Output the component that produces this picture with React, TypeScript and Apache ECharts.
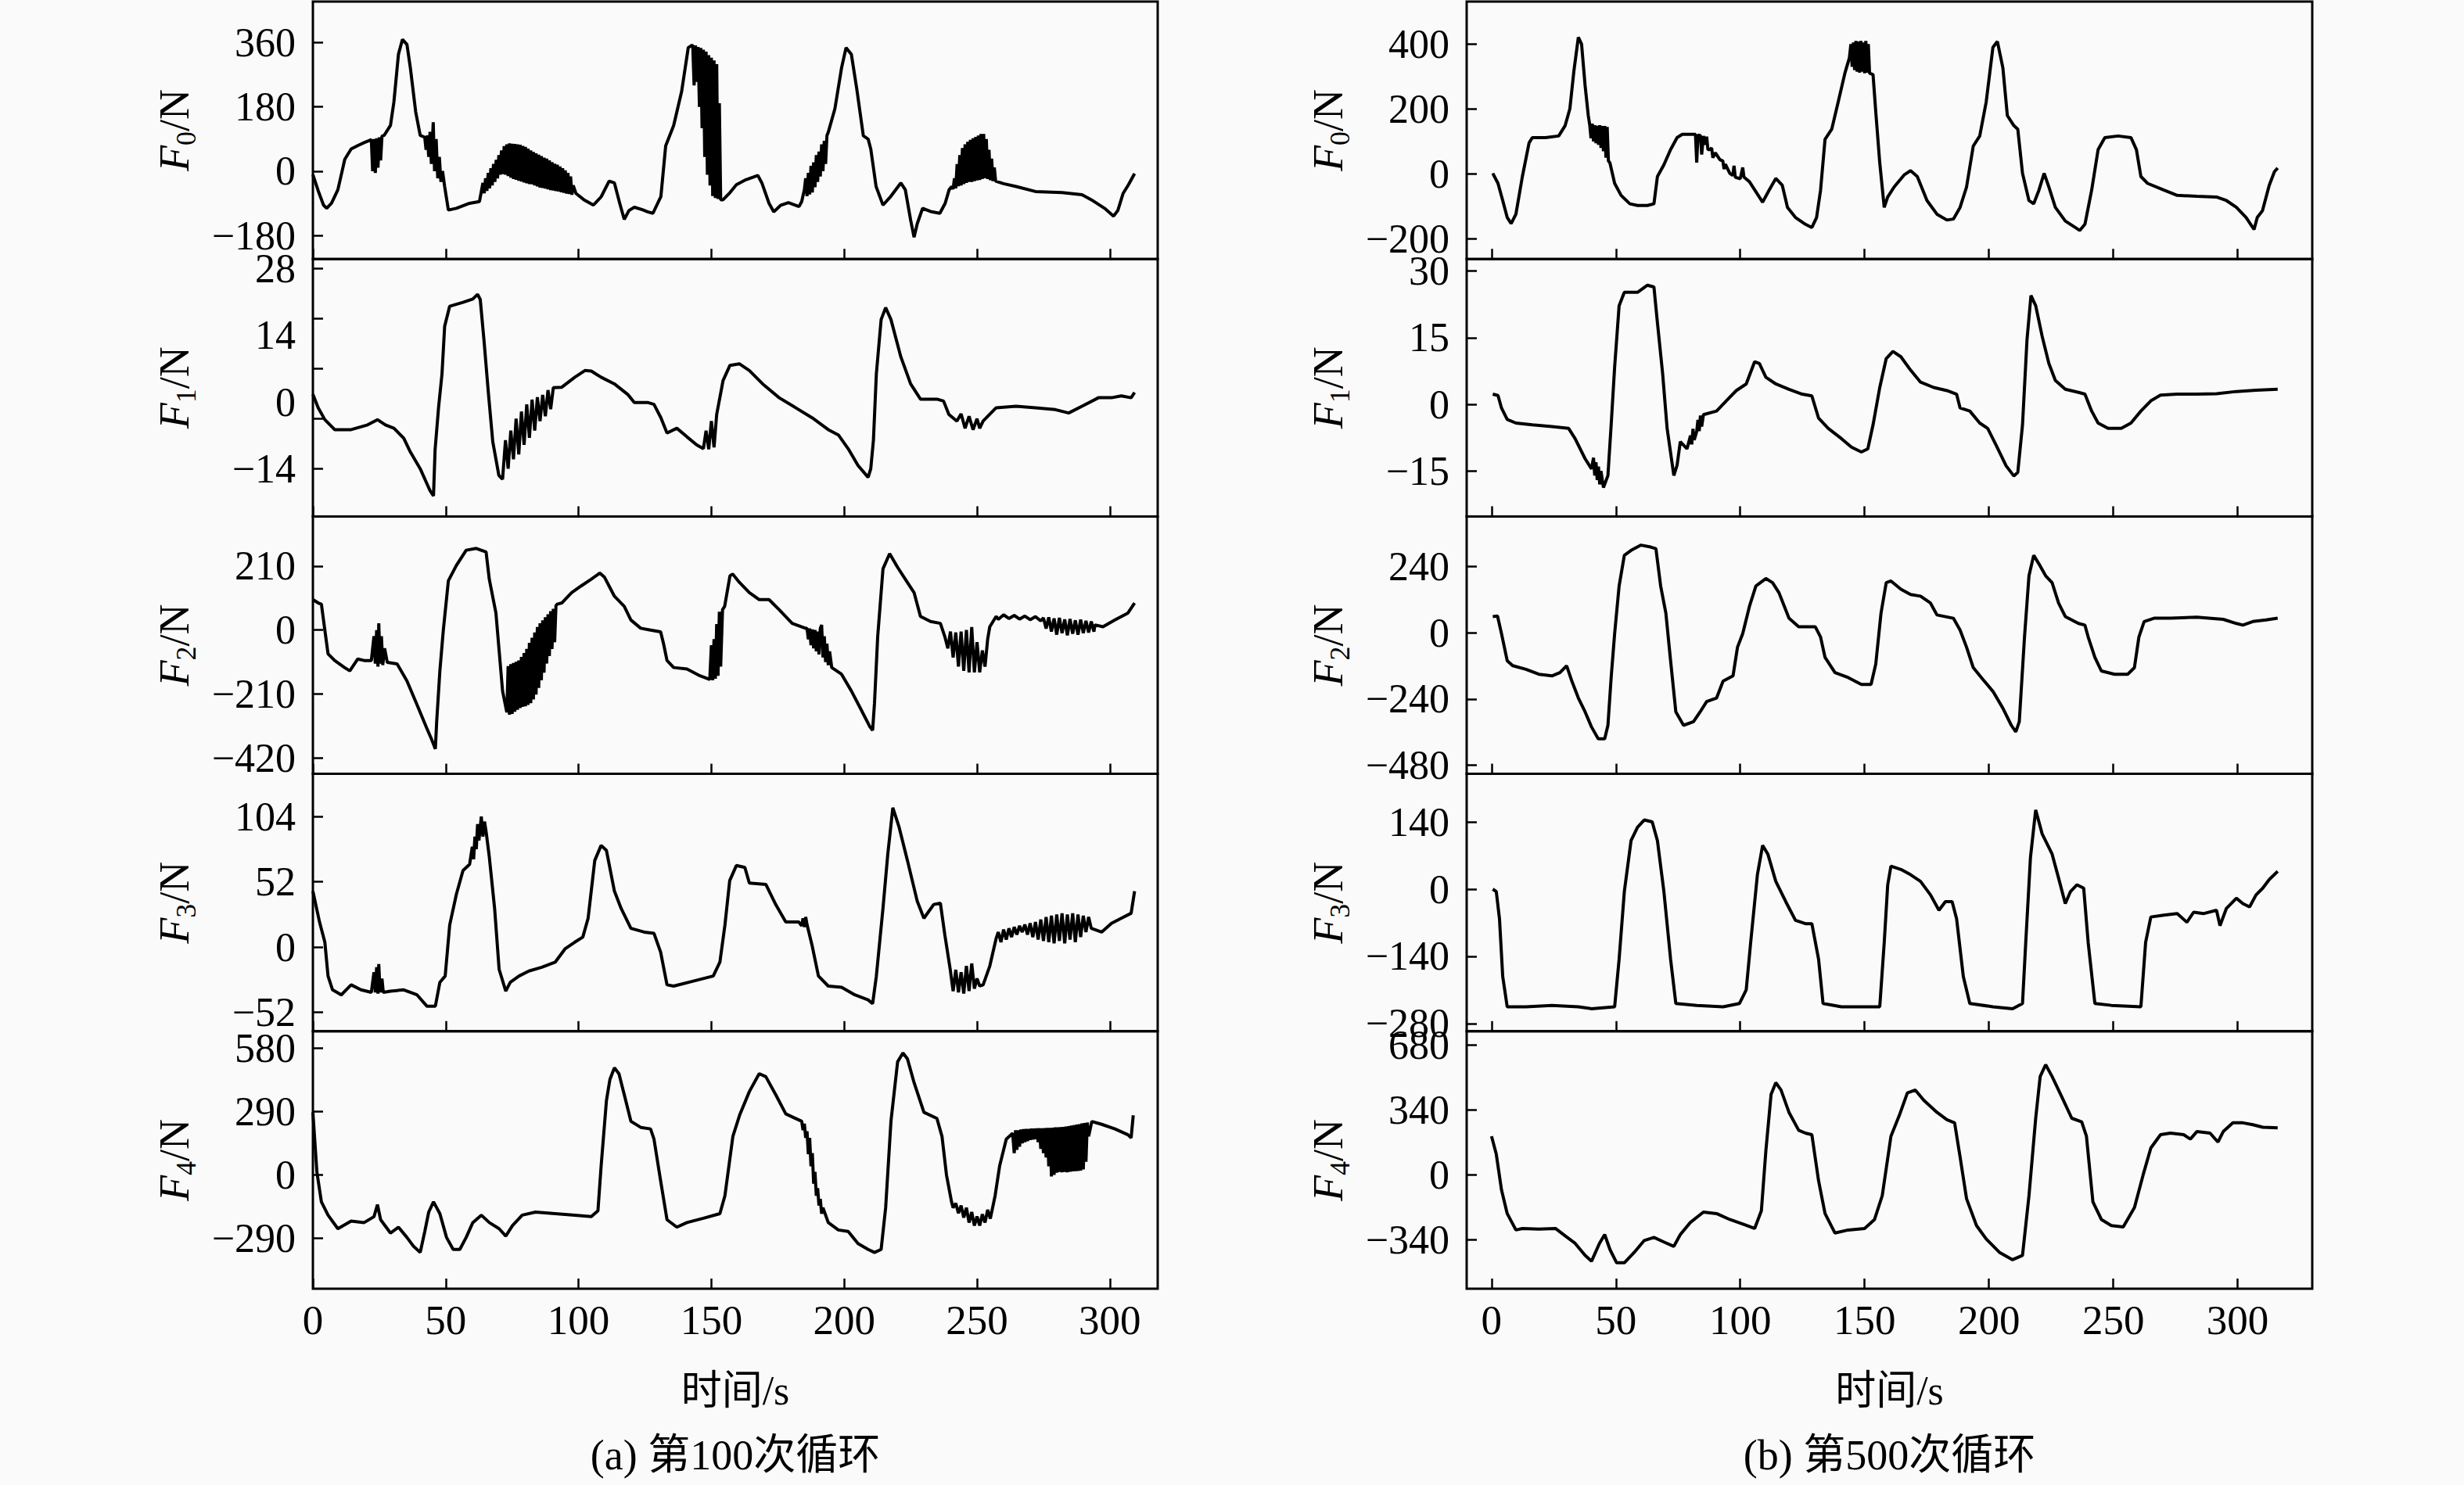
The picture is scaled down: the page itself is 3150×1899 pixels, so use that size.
import React, { useEffect, useRef } from 'react';
import * as echarts from 'echarts';

type Pt = [number, number];

// 时间轴刻度
const timeTicks = [0, 50, 100, 150, 200, 250, 300];

// (a) 第100次循环
const f0a: Pt[] = [[0,-10],[2,-55],[4,-95],[5.2,-104],[7,-90],[9.4,-52],[11,0],[12,33],[14.4,62],[17,72],[19.3,80],[22,88],[22.5,0],[23,90],[23.5,-5],[24,92],[24.5,10],[25,95],[25.5,30],[26,98],[26.8,100],[29.2,128],[30.5,194],[32.2,327],[33.7,369],[35.4,355],[36.7,289],[38.7,166],[40.4,100],[42.1,95],[42.6,60],[43.1,100],[43.6,40],[44.1,110],[44.6,20],[45.3,137],[45.8,0],[46.4,90],[47,-20],[47.6,40],[48.2,-30],[48.8,0],[49.6,-43],[51,-109],[54,-104],[59,-90],[62.7,-85],[64,-33],[64.5,-62],[65,-20],[65.5,-55],[66,-5],[66.5,-48],[67,8],[67.5,-40],[68,20],[68.5,-30],[69,32],[69.5,-20],[70,45],[70.5,-10],[71,58],[71.5,-8],[72,70],[72.5,-10],[73,75],[73.5,-14],[74,78],[74.5,-18],[75,77],[75.5,-22],[76,76],[76.5,-24],[77,75],[77.5,-27],[78,74],[78.5,-29],[79,71],[79.5,-32],[80,68],[80.5,-34],[81,63],[81.5,-36],[82,58],[82.5,-37],[83,54],[83.5,-40],[84,50],[84.5,-43],[85,46],[85.5,-46],[86,42],[86.5,-47],[87,38],[87.5,-49],[88,35],[88.5,-51],[89,30],[89.5,-53],[90,25],[90.5,-54],[91,21],[91.5,-56],[92,18],[92.5,-57],[93,13],[93.5,-59],[94,8],[94.5,-61],[95,2],[95.5,-63],[96,-5],[96.5,-64],[97,-15],[97.5,-66],[98,-40],[99,-62],[102,-80],[105.6,-95],[108.5,-72],[111.5,-28],[113.5,-33],[115.5,-90],[117.2,-135],[119,-110],[121,-101],[124,-108],[126,-114],[128,-118],[131,-71],[132.8,71],[135.8,128],[138.8,223],[141.3,346],[142.8,353],[143,350],[143.5,240],[144,352],[144.5,250],[145,348],[145.5,180],[146,345],[146.5,120],[147,340],[147.5,40],[148,335],[148.5,-10],[149,325],[149.5,-40],[150,318],[150.5,-70],[151,310],[151.5,-75],[152,300],[152.5,-78],[153,190],[153.5,-80],[154.4,-80],[157,-60],[159.4,-38],[163,-24],[167.5,-12],[169,-33],[171.7,-90],[173.5,-114],[176,-96],[179,-88],[183,-99],[184,-85],[185,-52],[185.5,-20],[186,-70],[186.5,-5],[187,-65],[187.5,15],[188,-60],[188.5,25],[189,-45],[189.5,45],[190,-30],[190.5,55],[191,-15],[191.5,75],[192,0],[192.5,85],[193,20],[193.5,100],[194,109],[196.5,175],[199,289],[200.7,346],[202.7,327],[204.7,232],[207.2,99],[209,90],[210,62],[212,-43],[214.6,-95],[217.5,-71],[221.3,-33],[223,-52],[225,-137],[226.3,-185],[227.5,-147],[229.5,-104],[232.5,-113],[236,-118],[238,-90],[239.5,-52],[240.5,-43],[241,-50],[241.5,-20],[242,-48],[242.5,20],[243,-42],[243.5,45],[244,-40],[244.5,65],[245,-36],[245.5,75],[246,-33],[246.5,82],[247,-30],[247.5,88],[248,-30],[248.5,92],[249,-28],[249.5,96],[250,-26],[250.5,100],[251,-25],[251.5,104],[252,-22],[252.5,104],[253,-20],[253.5,90],[254,-22],[254.5,60],[255,-25],[255.5,35],[256,-28],[256.5,10],[257,-28],[260,-35],[264.7,-43],[272,-57],[282,-60],[289.5,-66],[293,-80],[298,-104],[301.4,-126],[303,-110],[305,-62],[307,-38],[309.3,-7]];

const f1a: Pt[] = [[0,1.6],[2,-1.2],[4.5,-3.7],[8.2,-5.8],[14.4,-5.8],[20.6,-4.8],[24.3,-3.7],[27.3,-4.8],[30.5,-5.5],[34.2,-7.6],[36.7,-10.5],[40.4,-14],[44.1,-18.6],[45.4,-19.7],[46,-10],[47.3,-1.2],[48.6,5.9],[49.6,15.9],[51.5,20.1],[56.5,20.9],[60.2,21.6],[62,22.6],[63,21.5],[64.4,13],[66,2.3],[67.7,-8.3],[70,-15.4],[71.4,-16.2],[72.5,-8],[73.5,-14],[74.5,-6],[75.5,-12],[76.5,-3.5],[77.5,-11],[78.5,-2],[79.5,-9],[80.5,-0.5],[81.5,-7.5],[82.5,0.5],[83.5,-6],[84.5,1],[85.5,-4],[86.5,1.5],[87.5,-3],[88.5,2.5],[89.5,-1.5],[90.5,3],[93.7,3.1],[98.6,5.2],[102.4,6.6],[104.8,6.5],[108.5,5.2],[113.5,3.8],[118.5,1.6],[121,-0.1],[126,-0.1],[128.4,-0.5],[131,-3.3],[133.3,-6.5],[137,-5.5],[140.8,-7.3],[144.5,-9],[147,-9.8],[148,-6],[149,-9.9],[150,-4],[151,-9.5],[152,-2.6],[154.4,4.5],[157,7.7],[160.6,8],[164.3,6.6],[169.3,3.8],[175.5,0.9],[181.7,-1.2],[187.9,-3.3],[194,-5.8],[197.8,-6.9],[201.5,-9.8],[205.2,-13.3],[209,-15.8],[210,-14],[211,-8],[212.1,5.9],[213.9,17.3],[215.6,19.8],[217.6,17.3],[221.3,9.5],[225,3.8],[228.7,0.6],[234.9,0.6],[237.4,0.2],[239.4,-2.6],[242.4,-4],[244,-2.5],[245.5,-5.5],[247,-3],[248.5,-5.8],[250,-3.5],[251,-5.5],[252.3,-4],[257.2,-1.2],[264.7,-0.9],[272,-1.2],[279.5,-1.6],[284.5,-2.3],[289.5,-0.9],[295.7,0.9],[300.6,0.9],[304.3,1.3],[308,0.9],[309.3,2]];

const f2a: Pt[] = [[0,100],[2,89],[3.2,85],[4.5,0],[5.7,-78],[8.2,-100],[11.9,-123],[13.9,-134],[16.9,-95],[19.3,-100],[22,-100],[23,-20],[23.5,-110],[24,0],[24.5,-120],[24.8,22],[25.3,-110],[25.8,-20],[26.3,-115],[27,-60],[28,-106],[31.7,-111],[35.4,-167],[39.2,-245],[42.9,-323],[44.6,-357],[46.1,-390],[46.6,-300],[47.8,-134],[49.1,0],[51,162],[54,212],[57.7,262],[61.5,268],[65.2,256],[66.4,167],[68.9,56],[70.1,-67],[71.4,-200],[73,-270],[73.5,-118],[74,-278],[74.5,-112],[75,-275],[75.5,-108],[76,-268],[76.5,-104],[77,-262],[77.5,-100],[78,-256],[78.5,-88],[79,-252],[79.5,-75],[80,-250],[80.5,-62],[81,-246],[81.5,-42],[82,-240],[82.5,-25],[83,-228],[83.5,-8],[84,-212],[84.5,10],[85,-190],[85.5,22],[86,-165],[86.5,32],[87,-140],[87.5,42],[88,-110],[88.5,52],[89,-85],[89.5,62],[90,-62],[90.5,70],[91,-40],[91.5,80],[92,85],[93.7,89],[97.4,123],[101,145],[104.8,167],[108,187],[109.8,173],[113.5,111],[117.2,78],[119.7,33],[123.4,6],[127.1,0],[130.9,-6],[132,-45],[133.3,-100],[135.8,-123],[140.8,-128],[145.7,-150],[149.4,-162],[150,-50],[150.5,-165],[151,-30],[151.5,-160],[152,20],[152.5,-150],[153,60],[153.5,-120],[154.2,67],[155,78],[157,178],[158,184],[160.6,156],[164.3,123],[168,100],[171.7,100],[175.5,67],[180.4,22],[185.4,6],[186,6],[186.5,-30],[187,5],[187.5,-50],[188,2],[188.5,-60],[189,0],[189.5,-70],[190,-5],[190.5,-80],[191,5],[191.5,17],[192,-90],[192.5,-20],[193,-105],[193.5,-45],[194,-115],[194.5,-70],[195.3,-123],[199,-145],[202.7,-200],[206.4,-262],[209.7,-318],[210.7,-329],[211.4,-240],[212.6,-22],[214.6,201],[217.1,251],[220.1,206],[223.8,156],[226.3,123],[228.7,45],[232.5,28],[236.2,22],[237.9,-22],[239,-60],[240,-5],[241,-90],[242,-8],[243,-120],[244,-5],[245,-134],[246,0],[247,-139],[248,10],[249,-139],[250,-40],[251,-139],[252,-67],[253,-120],[254,-30],[254.8,11],[257.2,45],[258,35],[260,50],[262,38],[264,48],[266,36],[268,46],[270,34],[272,44],[274,30],[275,40],[276,5],[277,42],[278,-5],[279,38],[280,-15],[281,40],[282,-10],[283,35],[284,-17],[285,36],[286,-12],[287,32],[288,-15],[289,34],[290,-10],[291,30],[292,-8],[293,28],[294,-5],[294.4,17],[297.4,11],[301.9,33],[306.8,56],[309.3,89]];

const f3a: Pt[] = [[0,44.6],[2.5,20],[4.5,4],[5.7,-23],[7.4,-34],[10.7,-38],[14.4,-30],[18.1,-34],[22,-36],[23,-20],[23.5,-36],[24,-16],[24.5,-37],[24.8,-13.5],[25.3,-36],[26,-25],[26.5,-36],[29.2,-35],[34.2,-34],[39.2,-38],[42.9,-47],[46.1,-47],[47.8,-28],[49.8,-23],[51.5,17.6],[54,42],[56.5,61],[59,66],[60,80],[60.5,70],[61,88],[61.5,78],[62,98],[62.5,85],[63.4,104],[64,88],[64.6,100],[65.2,92],[66.4,72],[68.4,31],[70.1,-17.6],[72.6,-35],[74.3,-28],[77.6,-23],[81.3,-19],[86.2,-16],[91.2,-12],[94.9,-1.4],[98.6,4],[101.6,8],[103.6,23],[106.1,69],[108.5,81],[110.5,77],[113.5,44.6],[116,31],[119.7,15],[124.7,12],[128.4,11],[130.9,-4],[133.3,-30],[135.8,-31],[143.2,-27],[150.7,-23],[153.2,-12],[155.1,17.6],[156.9,53],[159.4,65],[162.6,63.5],[164.3,51],[170.5,50],[174.2,34],[178,20],[182.9,20],[184,17],[184.5,23],[185,16],[185.5,24],[186,18],[187.9,1.4],[190.3,-23],[194,-31],[199,-32],[204,-38],[209,-42],[210.7,-45],[212.1,-23],[214.6,31],[216.4,74],[218.3,111],[220.6,96],[223.8,69],[227.5,36.5],[230,23],[233.7,34],[236.2,35],[237.9,9.5],[239.9,-17.6],[241,-35],[242,-18],[243,-36],[244,-20],[245,-37],[246,-15],[247,-35],[248,-13],[249,-33],[250,-25],[251,-31],[252.3,-30],[254.8,-15],[257.2,7],[258,12],[259,4],[260,14],[261,6],[262,15],[263,8],[264,16],[265,10],[266,17],[267,12],[268,18],[269,10],[270,19],[271,8],[272,20],[273,6],[274,22],[275,5],[276,24],[277,4],[278,25],[279,3],[280,26],[281,5],[282,27],[283,3],[284,26],[285,6],[286,27],[287,4],[288,26],[289,8],[290,25],[291,12],[292,24],[293,15],[296.9,12],[300.6,19],[304.3,23],[308,27],[309.3,44.6]];

const f4a: Pt[] = [[0,287],[1.5,14],[3.2,-123],[5.7,-184],[9.4,-246],[14.4,-211],[19.3,-218],[23,-191],[24.3,-136],[25.5,-205],[29.2,-266],[32.2,-239],[35.4,-286],[37.9,-327],[40.4,-355],[42.1,-260],[43.6,-170],[45.4,-123],[47.8,-177],[50.3,-286],[52.8,-341],[55.3,-341],[57.7,-286],[60.2,-218],[63.4,-184],[66.4,-218],[70.1,-246],[72.6,-280],[75.1,-232],[78.8,-184],[83.8,-170],[91.2,-177],[98.6,-184],[104.8,-191],[107.3,-164],[108.5,41],[110.5,341],[111.8,437],[113.5,491],[115.2,464],[117.2,368],[119.7,246],[123.4,218],[127.1,211],[128.4,164],[130.9,-27],[133.3,-205],[137,-239],[140.8,-218],[147,-198],[153.2,-177],[155.1,-95],[158.1,177],[160.6,273],[164.3,382],[168,464],[170.5,450],[174.2,368],[178,280],[182.9,252],[184,246],[184.5,205],[185,235],[185.5,170],[186,200],[186.5,95],[187,170],[187.5,40],[188,100],[188.5,-40],[189,14],[189.5,-95],[190,-60],[190.5,-140],[191,-110],[191.5,-177],[192,-150],[194,-218],[197.8,-252],[201.5,-259],[205.2,-314],[209,-341],[211.4,-355],[213.9,-341],[215.6,-150],[217.6,246],[220.1,518],[222.1,559],[223.8,532],[226.3,423],[230,287],[234.9,259],[236.8,177],[238.5,0],[240.4,-123],[241,-150],[242,-130],[243,-175],[244,-140],[245,-195],[246,-150],[247,-218],[248,-170],[249,-232],[250,-190],[251,-232],[252,-180],[253,-218],[254,-160],[255,-200],[256.8,-95],[258.5,41],[261,164],[263.4,191],[264,100],[264.5,205],[265,115],[265.5,205],[266,130],[266.5,208],[267,145],[267.5,210],[268,150],[268.5,211],[269,155],[269.5,211],[270,160],[270.5,212],[271,162],[271.5,212],[272,164],[272.5,213],[273,150],[273.5,214],[274,120],[274.5,214],[275,100],[275.5,215],[276,80],[276.5,216],[277,40],[277.5,216],[278,-7],[278.5,217],[279,0],[279.5,218],[280,10],[280.5,218],[281,14],[281.5,219],[282,12],[282.5,220],[283,14],[283.5,222],[284,12],[284.5,224],[285,15],[285.5,226],[286,16],[286.5,228],[287,17],[287.5,231],[288,18],[288.5,233],[289,20],[289.5,236],[290,25],[290.5,238],[291,60],[291.5,240],[292,177],[293.2,245],[296.9,232],[301.9,211],[306.8,184],[308,170],[308.8,273]];

// (b) 第500次循环
const f0b: Pt[] = [[0.5,2],[2.6,-29],[4.5,-82],[6.3,-134],[7.9,-153],[9.8,-124],[12.4,-8],[15.1,96],[16.4,112],[21.7,112],[27,117],[29.6,149],[31.5,201],[33.1,316],[34.9,421],[36.2,400],[37.6,274],[38.9,180],[39.5,150],[40,110],[40.5,155],[41,100],[41.5,150],[42,95],[42.5,148],[43,90],[43.5,150],[44,80],[44.5,148],[45,70],[45.5,148],[46,50],[46.5,145],[47,40],[47.6,34],[49.5,-29],[52.1,-66],[55.6,-92],[58.7,-97],[62.7,-97],[65.3,-92],[66.7,-8],[69.3,28],[72,75],[74.6,112],[76.7,122],[81.2,122],[82,122],[82.5,35],[83,120],[84,118],[84.5,60],[85.2,117],[86,90],[86.5,115],[87,75],[87.8,75],[88.5,80],[89,50],[90,65],[91.8,44],[93,40],[93.5,15],[94,30],[95.8,2],[97,-5],[97.5,25],[98,-10],[100,-15],[101,20],[101.5,-10],[103.7,-24],[109,-87],[111.6,-50],[114.3,-14],[116.9,-35],[119,-103],[122.2,-134],[126.2,-155],[128.8,-165],[130.7,-134],[132.3,-50],[134.1,107],[136.8,138],[139.4,222],[142.1,311],[143.9,358],[144.5,400],[145,330],[145.5,405],[146,320],[146.5,410],[147,315],[147.5,408],[148,312],[148.5,410],[149,315],[149.5,405],[150,310],[150.5,410],[151,312],[151.5,400],[152,310],[153.4,306],[154.5,191],[156.1,34],[157.9,-103],[159.3,-71],[161.9,-40],[165.9,-3],[168.5,10],[171.2,-8],[175.1,-82],[179.1,-124],[183.1,-142],[185.7,-139],[188.4,-103],[191,-40],[193.7,86],[196.3,117],[198.9,222],[201.6,390],[203.4,408],[205.6,327],[207.4,180],[210,149],[211.6,138],[213.5,2],[216.1,-82],[218,-92],[220.1,-50],[222.2,2],[224.1,-40],[226.7,-103],[230.7,-145],[234.7,-165],[236.5,-174],[238.6,-155],[241.3,-50],[243.9,75],[246.6,112],[251.9,117],[257.1,112],[259.3,75],[261.1,-8],[263.8,-29],[270.4,-50],[275.7,-66],[283.6,-69],[291.5,-71],[295.5,-82],[299.5,-103],[303.4,-134],[306.6,-171],[307.9,-134],[310,-113],[312.7,-35],[314.8,7],[316.1,18]];

const f1b: Pt[] = [[0.5,2.3],[2.6,2],[4,-0.8],[6.3,-3.4],[9.8,-4.2],[16.4,-4.6],[24.3,-5],[31,-5.4],[33.6,-7.7],[37.6,-12.2],[40.2,-14.5],[41,-12],[41.5,-16],[42,-13],[42.5,-17],[43,-14],[43.5,-18],[44,-15],[45,-18.7],[46.8,-16],[48.1,-4.6],[49.5,8.4],[51.3,22.2],[53.4,25.2],[58.7,25.2],[62.7,26.8],[65.3,26.4],[66.7,18.4],[68.8,6.9],[70.6,-5.4],[73.3,-16],[74.6,-13.7],[75.9,-8.4],[78.6,-10],[80,-7],[80.5,-9],[81,-5.5],[81.5,-8],[82.5,-6.1],[83,-3.5],[83.5,-6],[84,-2.5],[84.5,-5],[85.2,-2.3],[90.5,-1.5],[94.4,0.8],[98.4,3.1],[102.4,4.6],[105.8,9.6],[107.7,9.2],[110.3,6.1],[114.3,4.6],[119.6,3.4],[124.9,2.3],[128.8,1.9],[131.5,-3.1],[135.4,-5.4],[140.7,-7.7],[144.7,-9.6],[148.7,-10.7],[151.3,-10],[153.4,-4.6],[156.1,3.8],[158.7,10.3],[161.4,11.9],[164.6,10.7],[168.5,7.7],[172.5,5],[177.8,3.8],[183.1,3.1],[187,2.3],[188.4,-0.8],[192.3,-1.5],[196.3,-4.2],[199.5,-5.4],[202.9,-9.2],[206.9,-13.8],[210,-16.1],[211.6,-15.3],[213.5,-4.6],[215.3,14.5],[216.9,24.5],[218.8,22.2],[221.4,15.3],[224.1,9.2],[226.7,5.4],[230.7,3.4],[236,2.7],[238.6,2.3],[241.3,-1.5],[243.9,-4.2],[247.9,-5.4],[253.2,-5.4],[257.1,-4.2],[261.1,-1.5],[265.1,0.8],[269,2.1],[275.7,2.3],[283.6,2.3],[291.5,2.4],[299.5,2.9],[307.4,3.2],[316.1,3.4]];

const f2b: Pt[] = [[0.5,59],[2.4,61],[4,-2.5],[6.3,-101],[8.5,-119],[13.8,-132],[19,-150],[24.3,-156],[27.5,-144],[30.2,-119],[32.3,-175],[34.9,-236],[37.6,-286],[40.2,-341],[42.9,-384],[45.5,-384],[46.8,-335],[48.1,-162],[49.5,-2.5],[51.3,170],[53.4,281],[56.1,299],[60.1,318],[64,311],[66.1,305],[68,170],[70.1,71],[72,-101],[74.1,-286],[77.2,-335],[81.2,-322],[83.9,-286],[86.5,-249],[90.5,-236],[93.1,-175],[97.1,-156],[98.9,-52],[101,-2.5],[103.7,96],[106.3,170],[110.3,197],[113,182],[115.6,145],[119.6,53],[123.5,22],[130.2,22],[132.3,-15],[134.1,-89],[138.1,-144],[143.4,-162],[148.7,-187],[152.6,-187],[154.5,-113],[156.6,71],[158.7,182],[160.6,188],[164.6,158],[168.5,139],[172.5,133],[176.5,108],[179.1,65],[185.7,53],[188.4,10],[191,-52],[193.7,-126],[197.6,-169],[201.6,-212],[205.6,-273],[209,-335],[210.8,-359],[212.2,-322],[214.3,-15],[216.1,207],[218,281],[220.1,250],[222.8,207],[225.4,182],[228,108],[230.7,59],[236,34],[238.6,28],[239.9,-15],[242.6,-89],[245.2,-138],[250.5,-150],[255.8,-150],[258.5,-126],[260.3,-15],[262.4,41],[266.4,53],[273,53],[283.6,57],[294.2,49],[299.5,34],[302.1,28],[306.1,41],[311.4,47],[316.1,53]];

const f3b: Pt[] = [[0.5,0],[1.9,-5],[3.2,-62],[4.5,-182],[6.3,-245],[13.8,-245],[24.3,-242],[34.9,-245],[40.2,-249],[49.5,-245],[51.3,-146],[53.4,-5],[56.1,101],[58.7,129],[61.4,144],[64.6,140],[66.7,101],[69.3,-5],[72,-146],[74.1,-238],[82.5,-242],[93.1,-245],[99.7,-238],[102.4,-210],[104.2,-111],[106.9,30],[109,91],[111.1,73],[114.3,16],[118.3,-26],[122.2,-65],[126.2,-72],[128.8,-72],[131.5,-146],[133.3,-238],[140.7,-245],[148.7,-245],[156.1,-245],[157.9,-111],[159.3,9],[160.6,48],[164.6,41],[168.5,30],[172.5,16],[176.5,-12],[179.9,-44],[182.5,-26],[185.2,-26],[187,-62],[189.7,-182],[192.3,-238],[201.6,-245],[209.5,-249],[213.5,-238],[214.8,-111],[216.7,66],[218.8,165],[221.4,115],[225.4,73],[228,23],[230.7,-30],[232.8,-5],[235.4,9],[238.1,2],[239.9,-111],[242.6,-238],[249.2,-242],[261.1,-245],[263,-111],[265.1,-58],[270.4,-54],[275.7,-51],[279.6,-69],[282.3,-48],[286.2,-51],[291.5,-44],[292.9,-76],[295.5,-40],[299.5,-19],[302.1,-30],[304.8,-37],[307.4,-12],[310.1,2],[312.7,20],[316.1,37]];

const f4b: Pt[] = [[0,203],[1.9,109],[4,-78],[6.3,-203],[9.8,-289],[12.4,-281],[19,-284],[25.7,-281],[29.6,-320],[33.6,-359],[37.6,-422],[40.2,-453],[43.4,-359],[45.5,-313],[47.6,-391],[50.3,-461],[53.4,-461],[57.4,-406],[61.4,-344],[65.3,-328],[69.3,-352],[73.3,-375],[75.9,-313],[79.9,-250],[85.2,-195],[90.5,-203],[95.8,-234],[101.1,-258],[105.8,-281],[108.5,-188],[110.3,125],[112.4,422],[114.3,484],[116.4,445],[119.6,328],[123.5,234],[126.2,219],[128.8,211],[131.5,-31],[134.1,-203],[138.1,-305],[143.4,-289],[150,-281],[154,-234],[157.1,-109],[160.6,203],[164,313],[167.2,430],[170.4,445],[173.8,391],[179.1,328],[183.1,289],[186.2,273],[188.4,94],[191,-125],[195,-266],[198.9,-336],[204.2,-406],[209.5,-445],[213.5,-422],[216.1,-109],[218.8,297],[220.6,516],[222.8,578],[225.4,516],[229.4,406],[233.3,297],[237.3,278],[239.2,203],[241.8,-141],[245.2,-234],[249.2,-266],[254,-273],[258.5,-172],[262,0],[265.1,141],[269,211],[273,219],[278.3,211],[281,188],[283.6,227],[288.9,219],[292.1,172],[294.2,227],[298.1,273],[302.1,273],[306.1,263],[310.1,250],[316.1,247]];

// 纵轴刻度与标签
const ticksA = [[-180, 0, 180, 360], [-14, -3.5, 7, 17.5, 28], [-420, -210, 0, 210], [-52, 0, 52, 104], [-290, 0, 290, 580]];
const labelsA = [[-180, 0, 180, 360], [-14, 0, 14, 28], [-420, -210, 0, 210], [-52, 0, 52, 104], [-290, 0, 290, 580]];
const rangeA = [[-246, 475], [-24, 30], [-472, 373], [-67, 138], [-521, 658]];
const ticksB = [[-200, 0, 200, 400], [-15, 0, 15, 30], [-480, -240, 0, 240], [-280, -140, 0, 140], [-340, 0, 340, 680]];
const rangeB = [[-262, 531], [-25.2, 32.7], [-511, 422], [-296, 240], [-597, 753]];

const FONT = "'Liberation Serif', 'Times New Roman', serif";
const CJK = "'Liberation Serif', 'Noto Sans CJK SC', sans-serif";

const colLeft = [400, 1875];
const colWidth = [1080, 1081];
const rowTop = 2;
const rowH = 329.2;

const fmt = (v: number) => (v < 0 ? '\u2212' + Math.abs(v) : String(v));

function buildOption() {
  const cols = [
    { caption: '(a) 第100次循环', xMin: 0, xMax: 318, data: [f0a, f1a, f2a, f3a, f4a], ticks: ticksA, labels: labelsA, range: rangeA },
    { caption: '(b) 第500次循环', xMin: -10, xMax: 330, data: [f0b, f1b, f2b, f3b, f4b], ticks: ticksB, labels: ticksB, range: rangeB },
  ];
  const grid: any[] = [];
  const xAxis: any[] = [];
  const yAxis: any[] = [];
  const series: any[] = [];
  const graphic: any[] = [];
  const tickStyle = { color: '#000', width: 2.5 };

  cols.forEach((col, c) => {
    for (let r = 0; r < 5; r++) {
      const idx = grid.length;
      grid.push({
        left: colLeft[c],
        width: colWidth[c],
        top: rowTop + r * rowH,
        height: rowH,
        show: true,
        borderColor: '#000',
        borderWidth: 3,
        backgroundColor: 'transparent',
      });
      const bottom = r === 4;
      xAxis.push({
        gridIndex: idx,
        type: 'value',
        position: 'bottom',
        min: col.xMin,
        max: col.xMax,
        axisLine: { show: false, onZero: false },
        axisTick: { show: true, inside: true, length: 13, lineStyle: tickStyle, customValues: timeTicks },
        axisLabel: { show: bottom, customValues: timeTicks, fontSize: 53, lineHeight: 40, fontFamily: FONT, color: '#000', margin: 20 },
        splitLine: { show: false },
        name: bottom ? '时间/s' : '',
        nameLocation: 'middle',
        nameGap: 104,
        nameTextStyle: { fontSize: 52, fontFamily: CJK, color: '#000' },
      });
      yAxis.push({
        gridIndex: idx,
        type: 'value',
        position: 'left',
        min: col.range[r][0],
        max: col.range[r][1],
        axisLine: { show: false, onZero: false },
        axisTick: { show: true, inside: true, length: 13, lineStyle: tickStyle, customValues: col.ticks[r] },
        axisLabel: { customValues: col.labels[r], formatter: fmt, fontSize: 52, lineHeight: 34, fontFamily: FONT, color: '#000', margin: 22 },
        splitLine: { show: false },
        name: `{f|F}{s|${r}}{n|/N}`,
        nameLocation: 'middle',
        nameRotate: 90,
        nameGap: 144,
        nameTextStyle: {
          color: '#000',
          fontFamily: FONT,
          fontSize: 54,
          rich: {
            f: { fontFamily: FONT, fontSize: 54, fontStyle: 'italic', color: '#000', lineHeight: 66 },
            s: { fontFamily: FONT, fontSize: 36, color: '#000', lineHeight: 26, verticalAlign: 'bottom' },
            n: { fontFamily: FONT, fontSize: 54, color: '#000', lineHeight: 66 },
          },
        },
      });
      series.push({
        type: 'line',
        xAxisIndex: idx,
        yAxisIndex: idx,
        data: col.data[r],
        showSymbol: false,
        symbol: 'none',
        silent: true,
        lineStyle: { color: '#000', width: 4 },
      });
    }
    graphic.push({
      type: 'text',
      x: colLeft[c] + colWidth[c] / 2,
      y: 1861,
      style: { text: col.caption, fontSize: 54, fontFamily: CJK, fill: '#000', textAlign: 'center', textVerticalAlign: 'middle' },
    });
  });

  return { animation: false, backgroundColor: '#fafafa', grid, xAxis, yAxis, series, graphic };
}

export default function App() {
  const ref = useRef<HTMLDivElement>(null);

  useEffect(() => {
    if (!ref.current) return;
    document.body.style.margin = '0';
    const chart = echarts.init(ref.current, undefined, { renderer: 'svg' });
    chart.setOption(buildOption());
    return () => {
      chart.dispose();
    };
  }, []);

  return <div ref={ref} style={{ position: 'absolute', left: 0, top: 0, width: 3150, height: 1899 }} />;
}
